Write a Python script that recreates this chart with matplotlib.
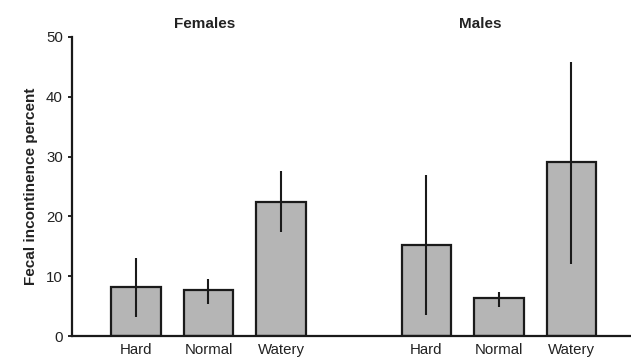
import matplotlib.pyplot as plt
import numpy as np

plt.rcParams['font.family'] = ['Liberation Sans', 'DejaVu Sans']

categories = ['Hard', 'Normal', 'Watery']
groups = ['Females', 'Males']

female_values = [8.2, 7.7, 22.4]
female_low = [3.2, 5.4, 17.4]
female_high = [13.0, 9.5, 27.6]

male_values = [15.2, 6.4, 29.1]
male_low = [3.5, 4.9, 12.0]
male_high = [26.9, 7.4, 45.8]

fig = plt.figure(figsize=(6.31, 3.58), dpi=100)
ax = fig.add_axes([72 / 631, 1 - 336 / 358, 1 - 72 / 631, (336 - 37) / 358])

x_f = np.arange(3)
x_m = np.arange(3) + 4

for xs, vals, lo, hi in [(x_f, female_values, female_low, female_high),
                         (x_m, male_values, male_low, male_high)]:
    ax.bar(xs, vals, width=0.68, color='#b5b5b5', edgecolor='#1a1a1a',
           linewidth=1.6, zorder=2)
    ax.vlines(xs, lo, hi, color='#1a1a1a', linewidth=1.5, zorder=3)

ax.set_xlim(-0.88, 6.82)
ax.set_ylim(0, 50)
ax.set_yticks([0, 10, 20, 30, 40, 50])
ax.set_xticks(list(x_f) + list(x_m))
ax.set_xticklabels(categories + categories)

ax.tick_params(axis='x', length=0, pad=5, labelsize=10.8)
ax.tick_params(axis='y', length=3, width=1.2, labelsize=10.8)
for lab in ax.get_xticklabels() + ax.get_yticklabels():
    lab.set_color('#222222')

ax.spines['top'].set_visible(False)
ax.spines['right'].set_visible(False)
ax.spines['left'].set_linewidth(1.6)
ax.spines['bottom'].set_linewidth(1.6)
ax.spines['left'].set_color('#1a1a1a')
ax.spines['bottom'].set_color('#1a1a1a')

ax.set_ylabel('Fecal incontinence percent', fontsize=11, fontweight='bold',
              color='#222222', labelpad=6)

ax.text(0.95, 1.045, groups[0], transform=ax.get_xaxis_transform(),
        ha='center', va='center', fontsize=11, fontweight='bold', color='#222222')
ax.text(4.75, 1.045, groups[1], transform=ax.get_xaxis_transform(),
        ha='center', va='center', fontsize=11, fontweight='bold', color='#222222')

fig.savefig('out.png', dpi=100)
